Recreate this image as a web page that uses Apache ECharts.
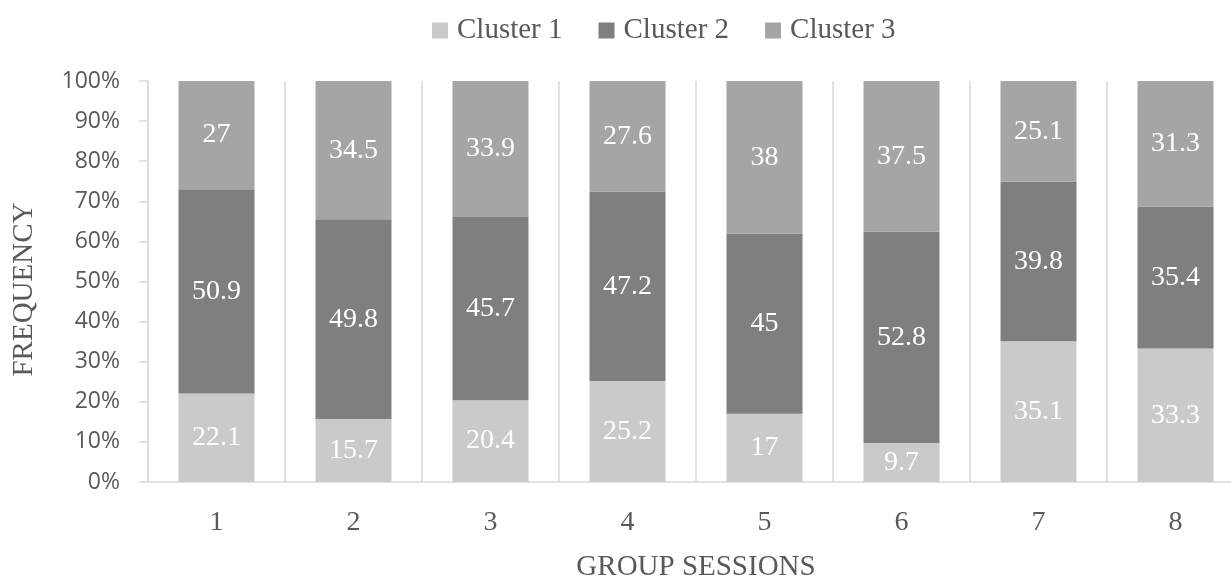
<!DOCTYPE html>
<html>
<head>
<meta charset="utf-8">
<title>Group sessions – cluster frequency</title>
<script src="https://cdn.jsdelivr.net/npm/echarts@6/dist/echarts.min.js"></script>
<style>
  html, body { margin: 0; padding: 0; background: #ffffff; }
  #chart { width: 1231px; height: 579px; }
</style>
</head>
<body>
<div id="chart"></div>
<script>
// Session labels along the x axis
const sessions = ['1', '2', '3', '4', '5', '6', '7', '8'];

// Share of each cluster per session (percent, each column sums to 100)
const cluster1 = [22.1, 15.7, 20.4, 25.2, 17, 9.7, 35.1, 33.3];
const cluster2 = [50.9, 49.8, 45.7, 47.2, 45, 52.8, 39.8, 35.4];
const cluster3 = [27, 34.5, 33.9, 27.6, 38, 37.5, 25.1, 31.3];

const seriesNames = ['Cluster 1', 'Cluster 2', 'Cluster 3'];
const seriesColors = ['#cacaca', '#7f7f7f', '#a5a5a5'];

const serif = 'Liberation Serif';
const textGrey = '#595959';
const lineGrey = '#d9d9d9';

const chart = echarts.init(document.getElementById('chart'), null, { renderer: 'canvas' });

function stackedSeries(name, data, color) {
  return {
    name: name,
    type: 'bar',
    stack: 'total',
    data: data,
    barWidth: 76,
    itemStyle: { color: color },
    label: {
      show: true,
      position: 'inside',
      color: '#ffffff',
      fontFamily: serif,
      fontSize: 28
    },
    emphasis: { disabled: true }
  };
}

chart.setOption({
  animation: false,
  legend: {
    left: 427,
    top: 11,
    itemWidth: 16,
    itemHeight: 16,
    itemGap: 36,
    icon: 'rect',
    textStyle: {
      color: textGrey,
      fontFamily: serif,
      fontSize: 29,
      padding: [0, 0, 0, 4]
    },
    data: seriesNames
  },
  grid: {
    left: 148,
    right: -13,
    top: 81,
    bottom: 97,
    containLabel: false,
    // the last category column runs past the right edge of the canvas
    outerBoundsMode: 'none'
  },
  xAxis: {
    type: 'category',
    data: sessions,
    name: 'GROUP SESSIONS',
    nameLocation: 'middle',
    nameGap: 71,
    nameTextStyle: { color: textGrey, fontFamily: serif, fontSize: 29 },
    axisLine: { show: true, lineStyle: { color: lineGrey, width: 1.5 } },
    axisTick: { show: false },
    axisLabel: { color: textGrey, fontFamily: serif, fontSize: 28, margin: 27 },
    splitLine: { show: true, lineStyle: { color: lineGrey, width: 1.5 } }
  },
  yAxis: {
    type: 'value',
    min: 0,
    max: 100,
    interval: 10,
    name: 'FREQUENCY',
    nameLocation: 'middle',
    nameGap: 109,
    nameTextStyle: { color: textGrey, fontFamily: serif, fontSize: 29, padding: [0, 16, 0, 0] },
    axisLine: { show: true, lineStyle: { color: lineGrey, width: 1.5 } },
    axisTick: { show: true, inside: false, length: 9, lineStyle: { color: lineGrey, width: 1.5 } },
    axisLabel: {
      color: textGrey,
      fontFamily: 'Open Sans',
      fontSize: 23,
      margin: 28,
      formatter: '{value}%'
    },
    splitLine: { show: false }
  },
  series: [
    stackedSeries(seriesNames[0], cluster1, seriesColors[0]),
    stackedSeries(seriesNames[1], cluster2, seriesColors[1]),
    stackedSeries(seriesNames[2], cluster3, seriesColors[2])
  ]
});
</script>
</body>
</html>
